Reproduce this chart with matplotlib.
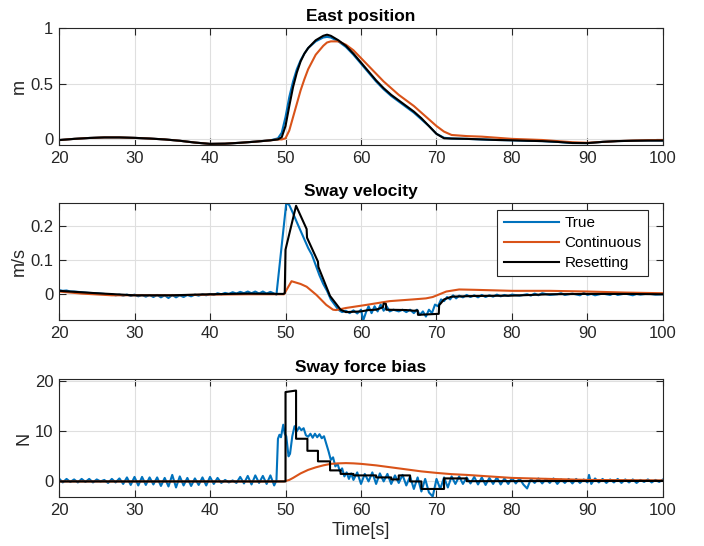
import matplotlib
matplotlib.use("Agg")
import matplotlib.pyplot as plt

# ---------------- data: (time [s], value) pairs ----------------
pos_t = [20, 22, 24, 26, 28, 30, 32, 34, 36, 38, 40, 42, 44, 46, 48, 49, 49.5, 50, 50.5, 51, 51.5,
         52, 52.5, 53, 54, 55, 55.5, 56, 57, 58, 59, 60, 61, 62, 63, 64, 65, 66, 67, 68, 69, 70,
         71, 72, 74, 76, 78, 80, 82, 84, 86, 88, 90, 92, 94, 96, 98, 100]
pos_true = [-0.006, 0.005, 0.013, 0.018, 0.018, 0.014, 0.008, 0.0, -0.012, -0.028, -0.04, -0.038,
            -0.03, -0.02, -0.008, 0.01, 0.06, 0.2, 0.38, 0.52, 0.63, 0.71, 0.77, 0.82, 0.88, 0.915,
            0.92, 0.915, 0.88, 0.83, 0.76, 0.68, 0.6, 0.52, 0.45, 0.39, 0.34, 0.29, 0.24, 0.18, 0.12,
            0.05, 0.015, 0.008, 0.005, 0.0, -0.005, -0.008, -0.012, -0.015, -0.022, -0.032, -0.033,
            -0.022, -0.015, -0.012, -0.01, -0.01]
pos_cont = [-0.006, 0.005, 0.013, 0.018, 0.018, 0.014, 0.008, 0.0, -0.012, -0.028, -0.04, -0.038,
            -0.03, -0.02, -0.008, 0.0, 0.0, 0.01, 0.08, 0.2, 0.32, 0.44, 0.54, 0.63, 0.76, 0.84,
            0.87, 0.88, 0.88, 0.85, 0.8, 0.73, 0.66, 0.59, 0.52, 0.46, 0.4, 0.35, 0.3, 0.24, 0.18,
            0.12, 0.07, 0.04, 0.03, 0.025, 0.015, 0.005, 0.0, -0.005, -0.015, -0.025, -0.03, -0.022,
            -0.015, -0.01, -0.007, -0.006]
pos_reset = [-0.006, 0.005, 0.013, 0.018, 0.018, 0.014, 0.008, 0.0, -0.012, -0.028, -0.04, -0.038,
             -0.03, -0.02, -0.008, 0.0, 0.02, 0.12, 0.3, 0.47, 0.6, 0.7, 0.77, 0.82, 0.89, 0.93,
             0.94, 0.93, 0.89, 0.84, 0.77, 0.69, 0.61, 0.53, 0.46, 0.4, 0.35, 0.3, 0.25, 0.19, 0.12,
             0.05, 0.01, 0.008, 0.005, 0.0, -0.005, -0.008, -0.012, -0.015, -0.022, -0.032, -0.033,
             -0.022, -0.015, -0.012, -0.01, -0.01]

vel_true_pts = [
    (20, 0.012), (20.5, 0.01), (21, 0.011), (21.5, 0.008), (22, 0.008), (23, 0.006), (24, 0.004),
    (25, 0.003), (26, 0.001), (26.5, -0.002), (27, 0.0), (27.5, -0.003), (28, -0.001),
    (28.5, -0.004), (29, -0.001), (29.5, -0.005), (30, -0.001), (30.5, -0.006), (31, -0.002),
    (31.5, -0.007), (32, -0.002), (32.5, -0.008), (33, -0.002), (33.5, -0.009), (34, -0.003),
    (34.5, -0.011), (35, -0.002), (35.5, -0.009), (36, -0.003), (36.5, -0.008), (37, -0.002),
    (37.5, -0.006), (38, -0.001), (38.5, -0.004), (39, 0.0), (39.5, -0.003), (40, 0.001),
    (40.5, -0.002), (41, 0.003), (41.5, 0.0), (42, 0.004), (42.5, 0.001), (43, 0.006),
    (43.5, 0.002), (44, 0.007), (44.5, 0.003), (45, 0.008), (45.5, 0.003), (46, 0.008),
    (46.5, 0.002), (47, 0.008), (47.5, 0.002), (48, 0.007), (48.8, -0.001), (50.1, 0.266),
    (50.5, 0.26), (51, 0.236), (51.5, 0.21), (52, 0.185), (52.5, 0.16), (53, 0.135),
    (53.5, 0.115), (54, 0.085), (54.5, 0.055), (55, 0.03), (55.5, 0.01), (56, -0.015),
    (56.5, -0.03), (57, -0.045), (57.5, -0.052), (58, -0.048), (58.5, -0.055), (59, -0.047),
    (59.5, -0.056), (60, -0.045), (60.3, -0.076), (60.7, -0.05), (61, -0.035), (61.4, -0.055),
    (61.8, -0.035), (62.2, -0.05), (62.6, -0.03), (63, -0.048), (63.4, -0.035), (63.8, -0.05),
    (64.3, -0.045), (65, -0.05), (65.5, -0.045), (66, -0.052), (66.5, -0.045), (67, -0.055),
    (67.4, -0.045), (67.8, -0.06), (68.2, -0.05), (68.6, -0.065), (69, -0.045), (69.4, -0.055),
    (69.8, -0.03), (70.2, -0.035), (70.6, -0.015), (71, -0.02), (71.4, -0.008), (71.8, -0.015),
    (72.2, -0.003), (72.6, -0.012), (73, -0.004), (73.5, -0.009), (74, -0.002), (74.5, -0.008),
    (75, -0.003), (75.5, -0.009), (76, -0.002), (76.5, -0.008), (77, -0.003), (77.5, -0.007),
    (78, -0.001), (78.5, -0.006), (79, -0.002), (79.5, -0.005), (80, -0.001), (81, -0.004),
    (82, 0.0), (82.5, -0.004), (83, 0.002), (83.5, -0.003), (84, 0.003), (85, -0.002), (86, 0.0),
    (86.5, 0.003), (87, -0.002), (88, 0.002), (89, -0.003), (89.5, 0.004), (90, -0.002),
    (90.5, 0.001), (91, -0.003), (92, 0.002), (93, -0.002), (93.5, 0.003), (94, -0.002),
    (95, 0.002), (96, -0.003), (96.5, 0.001), (97, -0.001), (98, 0.002), (99, -0.001), (100, 0.0)]

vel_cont_pts = [
    (20, 0.008), (23, 0.002), (27, -0.003), (30, -0.003), (35, -0.003), (40, -0.001), (45, 0.0),
    (49.8, 0.0), (50.8, 0.038), (52.0, 0.03), (52.8, 0.022), (54.1, -0.002), (55.4, -0.031),
    (56.3, -0.045), (56.7, -0.046), (58, -0.04), (60.7, -0.031), (63.8, -0.02), (66.9, -0.015),
    (68.6, -0.012), (69.5, -0.008), (71.3, 0.008), (73, 0.014), (75, 0.013), (80, 0.01),
    (85, 0.01), (90, 0.008), (95, 0.005), (100, 0.003)]

vel_reset_pts = [
    (20, 0.01), (25, 0.003), (30, -0.003), (35, -0.003), (40, 0.0), (45, 0.002), (49.7, 0.001),
    (49.9, 0.003), (50.0, 0.13), (51.4, 0.258), (52.8, 0.19), (52.85, 0.165), (54.3, 0.095),
    (54.35, 0.08), (55.9, -0.005), (57.3, -0.045), (58, -0.052), (60, -0.05), (61, -0.046),
    (62, -0.045), (62.9, -0.038), (63.0, -0.027), (63.3, -0.028), (63.35, -0.045), (66, -0.046),
    (67, -0.048), (67.5, -0.047), (67.55, -0.06), (70.3, -0.057), (70.35, -0.032), (71, -0.015),
    (72, -0.007), (75, -0.005), (80, -0.004), (85, 0.0), (90, 0.001), (95, 0.001), (100, 0.0)]

frc_true_pts = [
    (20.0, 0.6), (20.5, -0.2), (21.0, 0.5), (21.5, -0.1), (22.0, 0.4), (22.5, -0.2), (23.0, 0.5),
    (23.5, -0.1), (24.0, 0.5), (24.5, -0.2), (25.0, 0.4), (25.5, 0.0), (26.0, 0.3), (26.5, -0.3),
    (27.0, 0.5), (27.5, -0.2), (28.0, 0.6), (28.5, -0.5), (29.0, 0.8), (29.5, -0.7), (30.0, 0.9),
    (30.5, -0.8), (31.0, 0.9), (31.5, -0.7), (32.0, 0.8), (32.5, -0.6), (33.0, 0.8), (33.5, -0.9),
    (34.0, 0.7), (34.5, -1.0), (35.0, 1.3), (35.5, -1.2), (36.0, 1.0), (36.5, -0.8), (37.0, 0.7),
    (37.5, -0.9), (38.0, 0.6), (38.5, -0.7), (39.0, 0.8), (39.5, -0.8), (40.0, 0.9), (40.5, -0.5),
    (41.0, 0.7), (41.5, -0.3), (42.0, 0.3), (42.5, -0.2), (43.0, 0.2), (43.5, -0.3), (44.0, 0.9),
    (44.5, -0.4), (45.0, 1.1), (45.5, -0.6), (46.0, 1.2), (46.5, -0.3), (47.0, 1.1), (47.5, -0.5),
    (48.0, 1.2), (48.5, -0.8), (48.8, 0.2), (49.0, 8.5), (49.2, 9.3), (49.4, 8.8), (49.7, 11.3),
    (49.9, 9.5), (50.1, 9.0), (50.4, 5.0), (50.6, 5.5), (50.9, 9.0), (51.2, 11.0), (51.5, 10.0),
    (51.8, 10.8), (52.1, 10.2), (52.4, 10.6), (52.7, 9.2), (53.0, 8.9), (53.3, 9.5), (53.6, 8.7),
    (53.9, 9.5), (54.2, 8.8), (54.5, 9.4), (54.8, 8.6), (55.1, 9.0), (55.4, 7.5), (55.7, 6.0),
    (56.0, 4.3), (56.3, 4.8), (56.6, 3.0), (56.9, 3.5), (57.2, 2.0), (57.5, 2.6), (57.8, 1.0),
    (58.1, 1.8), (58.4, 0.5), (58.7, 1.6), (59.0, 0.3), (59.5, 1.8), (60.0, -0.5), (60.5, 1.5),
    (61.0, 0.0), (61.5, 1.8), (62.0, -0.5), (62.5, 1.6), (63.0, 0.0), (63.5, 1.5), (64.0, -0.5),
    (64.5, 1.2), (65.0, -0.3), (65.5, 1.3), (66.0, -0.8), (66.5, 1.0), (67.0, -1.5), (67.5, 0.8),
    (68.0, -2.0), (68.5, 0.5), (69.0, -2.2), (69.5, -3.0), (70.0, 0.5), (70.5, -1.5), (71.0, 0.8),
    (71.5, -1.2), (72.0, 1.0), (72.5, -0.5), (73.0, 1.0), (73.5, -0.5), (74.0, 0.8), (74.5, -0.4),
    (75.0, 0.9), (75.5, -0.6), (76.0, 0.8), (76.5, -0.7), (77.0, 0.7), (77.5, -0.5), (78.0, 0.8),
    (78.5, -0.6), (79.0, 0.6), (79.5, -0.5), (80.0, 0.7), (80.5, -0.4), (81.0, 0.6), (81.5, -0.6),
    (82.0, -1.4), (82.5, 0.5), (83.0, -0.3), (83.5, 0.6), (84.0, -0.4), (84.5, 0.5), (85.0, -0.3),
    (85.5, 0.6), (86.0, -0.5), (86.5, 0.4), (87.0, -0.3), (87.5, 0.5), (88.0, -0.4), (88.5, 0.5),
    (89.0, -0.3), (89.5, 0.4), (90.0, -0.2), (90.2, 1.3), (90.5, -0.5), (91.0, 0.6), (91.5, -0.2),
    (92.0, 0.5), (92.5, -0.3), (93.0, 0.4), (93.5, -0.2), (94.0, 0.5), (94.5, -0.3), (95.0, 0.4),
    (95.5, -0.2), (96.0, 0.4), (96.5, -0.3), (97.0, 0.3), (97.5, -0.1), (98.0, 0.4), (98.5, -0.2),
    (99.0, 0.3), (99.5, -0.1), (100.0, 0.4)]

frc_cont_pts = [
    (20, 0.0), (49.8, 0.0), (50.5, 0.3), (51, 0.7), (52, 1.6), (53, 2.3), (54, 2.8), (55, 3.2),
    (56, 3.5), (57, 3.6), (58, 3.65), (59, 3.6), (60, 3.5), (62, 3.2), (64, 2.8), (66, 2.4),
    (68, 2.0), (70, 1.7), (72, 1.45), (74, 1.3), (76, 1.1), (80, 0.7), (85, 0.5), (90, 0.3),
    (95, 0.25), (100, 0.2)]

# resetting estimate: piecewise, with its corner points
frc_reset_pts = [
    (20, 0.0), (50.0, 0.0), (50.0, 17.8), (51.4, 18.1), (51.4, 8.5), (52.9, 8.5), (52.9, 6.1),
    (54.3, 6.1), (54.3, 4.0), (55.9, 4.0), (55.9, 2.2), (57.3, 2.2), (57.3, 1.5), (59.0, 1.5),
    (59.0, 1.2), (62.0, 1.2), (62.0, 0.8), (64.0, 0.8), (64.0, 0.4), (65.0, 0.4), (65.0, 1.2),
    (66.5, 1.2), (66.5, 0.0), (68.0, 0.0), (68.0, -1.5), (71.0, -1.5), (71.0, 0.6), (74.0, 0.6),
    (74.0, 0.05), (100, 0.1)]

x_ticks = [20, 30, 40, 50, 60, 70, 80, 90, 100]
series_names = ["True", "Continuous", "Resetting"]
titles = ["East position", "Sway velocity", "Sway force bias"]
ylabels = ["m", "m/s", "N"]


def split(pts):
    return [p[0] for p in pts], [p[1] for p in pts]


# ---------------- style ----------------
plt.rcParams['font.family'] = ['Liberation Sans', 'DejaVu Sans']
C_BLUE = '#0072BD'
C_ORANGE = '#D95319'
C_BLACK = '#000000'
LW = 1.5

fig = plt.figure(figsize=(7.04, 5.46), dpi=100)
W, H = 704.0, 546.0
left, right = 59, 663
boxes = [(28, 145), (203, 320), (379, 497)]
axes = []
for (top, bot) in boxes:
    ax = fig.add_axes([left / W, 1 - bot / H, (right - left) / W, (bot - top) / H])
    axes.append(ax)


def style(ax, title, ylabel, yticks, yticklabels, ylim):
    ax.set_xlim(20, 100)
    ax.set_ylim(*ylim)
    ax.set_xticks(x_ticks)
    ax.set_xticklabels([str(v) for v in x_ticks])
    ax.set_yticks(yticks)
    ax.set_yticklabels(yticklabels)
    ax.grid(True, color='#dfdfdf', linewidth=0.8)
    ax.set_axisbelow(True)
    for s in ax.spines.values():
        s.set_color('#262626')
        s.set_linewidth(0.8)
    ax.tick_params(direction='in', top=True, right=True, length=5, width=0.8,
                   colors='#262626', labelsize=12, labelcolor='#262626', pad=4)
    ax.set_title(title, fontsize=12.5, fontweight='bold', pad=5)
    ax.set_ylabel(ylabel, fontsize=13, color='#262626', labelpad=2)


ax1, ax2, ax3 = axes
ax1.plot(pos_t, pos_true, color=C_BLUE, lw=LW)
ax1.plot(pos_t, pos_cont, color=C_ORANGE, lw=LW)
ax1.plot(pos_t, pos_reset, color=C_BLACK, lw=LW)
style(ax1, titles[0], ylabels[0], [0, 0.5, 1], ['0', '0.5', '1'], (-0.05, 1.0))

l1, = ax2.plot(*split(vel_true_pts), color=C_BLUE, lw=LW)
l2, = ax2.plot(*split(vel_cont_pts), color=C_ORANGE, lw=LW)
l3, = ax2.plot(*split(vel_reset_pts), color=C_BLACK, lw=LW)
style(ax2, titles[1], ylabels[1], [0, 0.1, 0.2], ['0', '0.1', '0.2'], (-0.075, 0.266))
leg = ax2.legend([l1, l2, l3], series_names, loc='upper right', fontsize=11,
                 handlelength=3.6, handletextpad=0.4, borderpad=0.4, labelspacing=0.4,
                 fancybox=False, framealpha=1, edgecolor='#262626',
                 bbox_to_anchor=(0.975, 0.94), borderaxespad=0)
leg.get_frame().set_linewidth(0.8)

ax3.plot(*split(frc_true_pts), color=C_BLUE, lw=LW)
ax3.plot(*split(frc_cont_pts), color=C_ORANGE, lw=LW)
ax3.plot(*split(frc_reset_pts), color=C_BLACK, lw=LW)
style(ax3, titles[2], ylabels[2], [0, 10, 20], ['0', '10', '20'], (-3.1, 20.4))
ax3.set_xlabel('Time[s]', fontsize=13, color='#262626', labelpad=3)

fig.savefig('out.png', dpi=100)
